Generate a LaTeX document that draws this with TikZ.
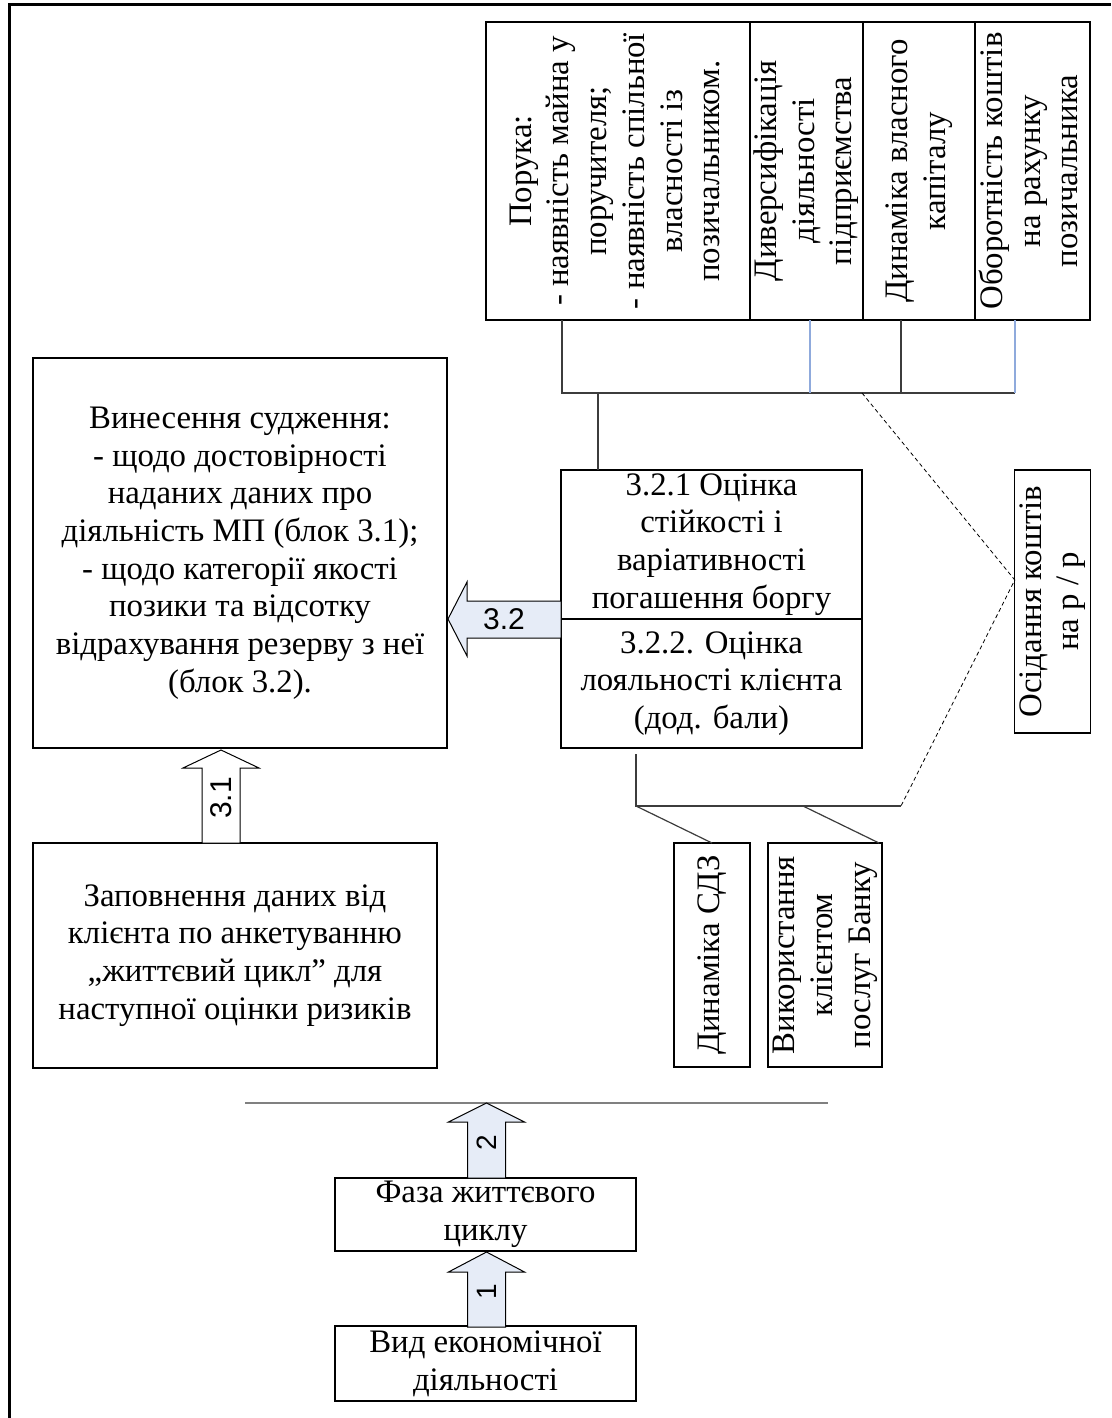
\documentclass[tikz,border=0pt]{standalone}
\usepackage{graphicx}
\usepackage{fontspec}
\setmainfont{Liberation Serif}
\newfontfamily\arrowfont{Liberation Sans}
\usetikzlibrary{calc}
\definecolor{arrowfill}{RGB}{230,236,247}
\definecolor{linkblue}{RGB}{143,170,220}
\definecolor{linkgray}{RGB}{60,60,60}
\definecolor{rulegray}{RGB}{128,128,128}
% vertical (bottom-to-top) multi-line label
\newcommand\vtext[1]{\rotatebox{90}{\begin{tabular}{@{}c@{}}#1\end{tabular}}}
% upward block arrow: centre x, tip y, head base y, tail y, fill
\newcommand\uparrowblock[5]{%
  \filldraw[blockarrow, fill=#5] (#1,#2) -- ({#1+38},#3) -- ({#1+19},#3) -- ({#1+19},#4)
    -- ({#1-19},#4) -- ({#1-19},#3) -- ({#1-38},#3) -- cycle;}
\begin{document}
\begin{tikzpicture}[x=1pt,y=-1pt,
  box/.style={draw=black, line width=1.3pt, inner sep=0pt, outer sep=0pt, align=center,
    font=\fontsize{32.8}{37.7}\selectfont},
  link/.style={draw=linkgray, line width=1.2pt},
  bluelink/.style={draw=linkblue, line width=1.2pt},
  dashlink/.style={draw=black, line width=0.8pt, dash pattern=on 4pt off 3pt},
  blockarrow/.style={draw=black, line width=1pt, line join=miter},
  arrowlabel/.style={font=\arrowfont\fontsize{30}{30}\selectfont, inner sep=0pt},
]
\useasboundingbox (0,0) rectangle (1111,1418);

% page frame
\draw[line width=3pt, line join=miter] (9,1418) -- (9,5) -- (1111,5);

% top row of factors
\node[box, minimum width=264pt, minimum height=298pt] (poruka) at (618,171)
  {\vtext{Порука:\\- наявність майна у\\поручителя;\\- наявність спільної\\власності із\\позичальником.}};
\node[box, minimum width=113pt, minimum height=298pt] (dyvers) at (806.5,171)
  {\vtext{Диверсифікація\\діяльності\\підприємства}};
\node[box, minimum width=112pt, minimum height=298pt] (dynk) at (919,171)
  {\vtext{Динаміка власного\\капіталу}};
\node[box, minimum width=115pt, minimum height=298pt] (obor) at (1032.5,171)
  {\vtext{Оборотність коштів\\на рахунку\\позичальника}};

% block 3.2
\node[box, minimum width=301pt, minimum height=149pt] (b321) at (711.5,544.5)
  {3.2.1 Оцінка\\стійкості і\\варіативності\\погашення боргу};
\node[box, minimum width=301pt, minimum height=129pt] (b322) at (711.5,683.5)
  {3.2.2. Оцінка\\лояльності клієнта\\(дод. бали)};
\node[box, minimum width=75pt, minimum height=263pt] (osid) at (1052.5,601.5)
  {\vtext{Осідання коштів\\на р / р}};

\node[box, minimum width=76pt, minimum height=224pt] (sdz) at (712,955)
  {\vtext{Динаміка СДЗ}};
\node[box, minimum width=114pt, minimum height=224pt] (vyk) at (825,955)
  {\vtext{Використання\\клієнтом\\послуг Банку}};

% left column
\node[box, minimum width=414pt, minimum height=390pt] (judge) at (240,553)
  {Винесення судження:\\- щодо достовірності\\наданих даних про\\діяльність МП (блок 3.1);\\- щодо категорії якості\\позики та відсотку\\відрахування резерву з неї\\(блок 3.2).};
\node[box, minimum width=404pt, minimum height=225pt] (anketa) at (235,955.5)
  {Заповнення даних від\\клієнта по анкетуванню\\„життєвий цикл” для\\наступної оцінки ризиків};

% bottom chain
\node[box, minimum width=301pt, minimum height=73pt] (faza) at (485.5,1214.5)
  {Фаза життєвого\\циклу};
\node[box, minimum width=301pt, minimum height=75pt] (vyd) at (485.5,1363.5)
  {Вид економічної\\діяльності};
\coordinate (r1) at (245,1103);
\coordinate (r2) at (828,1103);
\draw[rulegray, line width=2pt] (r1) -- (r2);

% bracket under the top row
\coordinate (k1) at (562,393);
\coordinate (k2) at (810,393);
\coordinate (k3) at (901,393);
\coordinate (k4) at (1015,393);
\coordinate (k5) at (598,393);
\draw[link] (k1 |- poruka.south) -- (k1) -- (k4);
\draw[link] (k3 |- dynk.south) -- (k3);
\draw[bluelink] (k2 |- dyvers.south) -- (k2);
\draw[bluelink] (k4 |- obor.south) -- (k4);
\draw[link] (k5) -- (k5 |- b321.north);

% bracket under block 3.2
\coordinate (e1) at (636,806);
\coordinate (e2) at (803,806);
\coordinate (d3) at (901,806);
\draw[link, shorten <=6pt] (e1 |- b322.south) -- (e1) -- (d3);
\draw[link] (e1) -- (sdz.north);
\draw[link] (e2) -- ($(vyk.north east)+(-3,0)$);

% dashed link through the settling-of-funds factor
\coordinate (d1) at (862,393);
\coordinate (apex) at ($(osid.west)+(0,-21.5)$);
\draw[dashlink] (d1) -- (apex) -- (d3);

% block arrow 3.2 (pointing left)
\filldraw[blockarrow, fill=arrowfill] (448,619) -- (467,582) -- (467,601) -- (561,601)
  -- (561,638) -- (467,638) -- (467,656) -- cycle;
\node[arrowlabel] (l32) at (504,619) {3.2};

% block arrow 3.1
\uparrowblock{221}{750}{768}{843}{white}
\node[arrowlabel, rotate=90] (l31) at (221,798) {3.1};

% block arrow 2
\uparrowblock{486.5}{1103}{1122}{1178}{arrowfill}
\node[arrowlabel, rotate=90, font=\arrowfont\fontsize{28}{28}\selectfont] (l2) at (486.5,1143) {2};

% block arrow 1
\uparrowblock{486.5}{1252}{1272}{1327}{arrowfill}
\node[arrowlabel, rotate=90, font=\arrowfont\fontsize{28}{28}\selectfont] (l1) at (486.5,1292) {1};
\end{tikzpicture}
\end{document}
